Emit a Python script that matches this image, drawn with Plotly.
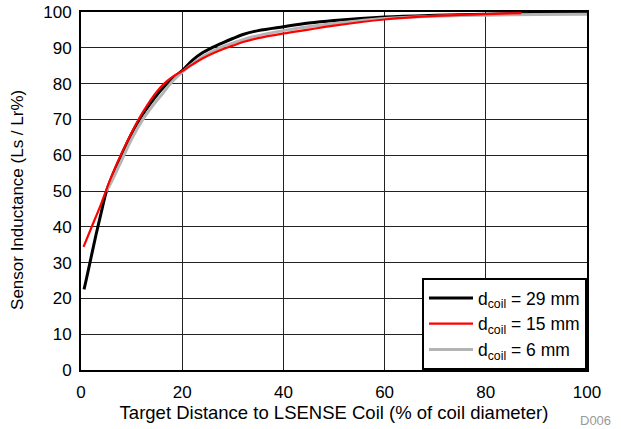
import plotly.graph_objects as go

# Data
x_29 = [0.6, 1, 2, 3, 4, 5, 6, 8, 10, 12, 14, 16, 18, 20, 22, 24, 26, 28, 30, 32, 35, 40, 45, 50, 60, 70, 80, 90, 100]
y_29 = [22.5, 25, 31.5, 38, 44, 49.8, 53.5, 60, 66, 71, 75, 78.5, 81.3, 83.6, 86.5, 88.6, 90.1, 91.4, 92.6, 93.7, 94.8, 95.9, 96.9, 97.6, 98.6, 99.1, 99.4, 99.6, 99.8]

x_15 = [0.5, 2, 4, 6, 8, 10, 12, 14, 16, 18, 20, 22, 24, 26, 28, 30, 32, 35, 40, 45, 50, 60, 70, 80, 87]
y_15 = [34.4, 39.6, 46.5, 54, 60.5, 66.3, 71.5, 75.9, 79.4, 81.8, 83.5, 85.3, 87, 88.4, 89.6, 90.6, 91.6, 92.7, 94, 95.1, 96.2, 97.9, 98.9, 99.4, 99.7]

x_6 = [5, 6, 8, 10, 12, 14, 16, 18, 20, 22, 24, 26, 28, 30, 32, 35, 40, 45, 50, 60, 70, 80, 90, 100]
y_6 = [50, 52.5, 58.5, 64.5, 69.5, 73.5, 77, 80.5, 83.2, 85.5, 87.5, 89, 90.3, 91.3, 92.3, 93.4, 94.8, 95.9, 96.8, 98.2, 98.8, 99.1, 99.3, 99.4]

names = ["d<sub>coil</sub> = 29 mm", "d<sub>coil</sub> = 15 mm", "d<sub>coil</sub> = 6 mm"]

x_ticks = [0, 20, 40, 60, 80, 100]
y_ticks = [0, 10, 20, 30, 40, 50, 60, 70, 80, 90, 100]

FONT = "Liberation Sans, Arial, sans-serif"

fig = go.Figure()
fig.add_trace(go.Scatter(x=x_29, y=y_29, mode="lines", name=names[0], legendrank=1,
                         line=dict(color="#000000", width=3, shape="spline")))
fig.add_trace(go.Scatter(x=x_6, y=y_6, mode="lines", name=names[2], legendrank=3,
                         line=dict(color="#b4b4b4", width=3, shape="spline")))
fig.add_trace(go.Scatter(x=x_15, y=y_15, mode="lines", name=names[1], legendrank=2,
                         line=dict(color="#ff0000", width=2.2, shape="spline")))

fig.update_layout(
    width=621, height=429,
    margin=dict(l=81, r=34, t=12, b=59),
    paper_bgcolor="white", plot_bgcolor="white",
    font=dict(family=FONT, size=17, color="#000"),
    showlegend=True,
    legend=dict(x=1, y=0, xanchor="right", yanchor="bottom",
                bordercolor="#000", borderwidth=2, bgcolor="white",
                font=dict(size=17.5), tracegroupgap=0, itemwidth=44),
    xaxis=dict(range=[0, 100], tickvals=x_ticks, showgrid=True, gridcolor="#222", gridwidth=1,
               showline=True, linecolor="#000", linewidth=2, mirror=True, zeroline=False,
               ticks="", ticklabelstandoff=6, automargin=False,
               tickfont=dict(size=17),
               title=dict(text="Target Distance to LSENSE Coil (% of coil diameter)", standoff=0,
                          font=dict(size=18.5))),
    yaxis=dict(range=[0, 100], tickvals=y_ticks, showgrid=True, gridcolor="#222", gridwidth=1,
               showline=True, linecolor="#000", linewidth=2, mirror=True, zeroline=False,
               ticks="", ticklabelstandoff=4, automargin=False,
               tickfont=dict(size=17)),
    annotations=[
        dict(text="Sensor Inductance (Ls / Lr%)", xref="paper", yref="paper", x=0, y=0.475,
             xshift=-63, xanchor="center", yanchor="middle", textangle=-90, showarrow=False,
             font=dict(size=17)),
        dict(text="D006", xref="paper", yref="paper", x=1, y=0, xshift=26, yshift=-50,
             xanchor="right", yanchor="middle", showarrow=False,
             font=dict(size=13, color="#999")),
    ],
)

fig.write_html("out.html", config={"displayModeBar": False},
               post_script="document.body.style.margin='0';")
